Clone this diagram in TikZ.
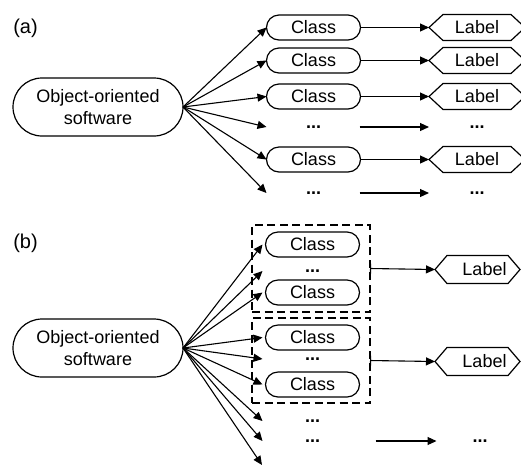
\documentclass[tikz,border=0pt]{standalone}
\usepackage{fontspec}
\setmainfont{Liberation Sans}
\usetikzlibrary{arrows.meta}
\begin{document}
\begin{tikzpicture}[x=1pt,y=-1pt,
  every node/.style={font=\fontsize{18}{22}\selectfont, inner sep=0pt, outer sep=0pt},
  ln/.style={line width=1.1pt},
  arr/.style={ln, -{Triangle[length=9pt,width=8pt]}},
  barr/.style={ln, {Bar[width=10pt,line width=1.1pt]}-{Triangle[length=9pt,width=8pt]}},
  cls/.style={draw, line width=1.2pt, rounded corners=12.5pt, minimum width=94pt, minimum height=25pt},
  dotsn/.style={minimum width=94pt, minimum height=6pt, font=\fontsize{18}{22}\selectfont\bfseries},
  obj/.style={draw, line width=1.2pt, rounded corners=29pt, minimum width=170pt, minimum height=58pt, align=center},
  hexa/.style={minimum height=26pt},
  grp/.style={draw, line width=1.6pt, dash pattern=on 8pt off 4.5pt},
  tag/.style={font=\fontsize{20}{24}\selectfont}
]
\useasboundingbox (0,0) rectangle (521,467);

% ---------- (a) ----------
\node[tag] (ta) at (25.5,28) {(a)};
\node[obj] (oa) at (98,107) {Object-oriented\\software};

\node[cls] (a1) at (313.5,27.5) {Class};
\node[cls] (a2) at (313.5,60.5) {Class};
\node[cls] (a3) at (313.5,96.5) {Class};
\node[dotsn] (a4) at (313.5,127) {...};
\node[cls] (a5) at (313.5,159.5) {Class};
\node[dotsn] (a6) at (313.5,193) {...};

\node[hexa, minimum width=96pt] (la1) at (477,27.5) {Label};
\node[hexa, minimum width=96pt] (la2) at (477,60.5) {Label};
\node[hexa, minimum width=96pt] (la3) at (477,96.5) {Label};
\node[dotsn, minimum width=96pt] (la4) at (477,127) {...};
\node[hexa, minimum width=96pt] (la5) at (477,159.5) {Label};
\node[dotsn, minimum width=96pt] (la6) at (477,193) {...};

\foreach \n in {la1,la2,la3,la5}
  \draw[line width=1.2pt] (\n.west) -- ([xshift=14pt]\n.north west) -- ([xshift=-14pt]\n.north east)
     -- (\n.east) -- ([xshift=-14pt]\n.south east) -- ([xshift=14pt]\n.south west) -- cycle;

\foreach \n in {a1,a2,a3,a4,a5,a6}
  \draw[arr] (oa.east) -- (\n.west);
\foreach \n/\m in {a1/la1,a2/la2,a3/la3,a5/la5}
  \draw[arr] (\n.east) -- (\m.west);
\draw[arr] ([xshift=-1pt]a4.east) -- (la4.west);
\draw[arr] ([xshift=-1pt]a6.east) -- (la6.west);

% ---------- (b) ----------
\node[tag] (tb) at (25.5,243) {(b)};
\node[obj] (ob) at (98,348) {Object-oriented\\software};

\node[grp, minimum width=118pt, minimum height=87pt] (g1) at (311,268.5) {};
\node[grp, minimum width=118pt, minimum height=85pt] (g2) at (311,360.5) {};

\node[cls] (b1) at (312.5,244.5) {Class};
\node[dotsn] (b2) at (312.5,271) {...};
\node[cls] (b3) at (312.5,292.5) {Class};
\node[cls] (b4) at (312.5,337.5) {Class};
\node[dotsn] (b5) at (312.5,359) {...};
\node[cls] (b6) at (312.5,384.5) {Class};
\node[dotsn] (b7) at (312.5,421) {...};
\node[dotsn] (b8) at (312.5,441) {...};
\coordinate (b9) at (262,465);

\node[minimum height=28pt, minimum width=85pt] (lb1) at (477.5,269.5) {\hspace*{14pt}Label};
\node[minimum height=28pt, minimum width=85pt] (lb2) at (477.5,361.5) {\hspace*{14pt}Label};
\node[dotsn, minimum width=85pt] (lb3) at (480,441) {...};

\foreach \n in {lb1,lb2}
  \draw[line width=1.2pt] (\n.west) -- ([xshift=12pt]\n.north west) -- ([xshift=-12pt]\n.north east)
     -- (\n.east) -- ([xshift=-12pt]\n.south east) -- ([xshift=12pt]\n.south west) -- cycle;

\foreach \n in {b1,b2,b3,b4,b5,b6,b7,b8}
  \draw[arr] (ob.east) -- ([xshift=-3pt]\n.west);
\draw[arr] (ob.east) -- (b9);

\draw[barr] (g1.east) -- (lb1.west);
\draw[barr] (g2.east) -- (lb2.west);
\draw[arr, shorten <=16pt] (b8.east) -- ([xshift=-1pt]lb3.west);
\end{tikzpicture}
\end{document}
